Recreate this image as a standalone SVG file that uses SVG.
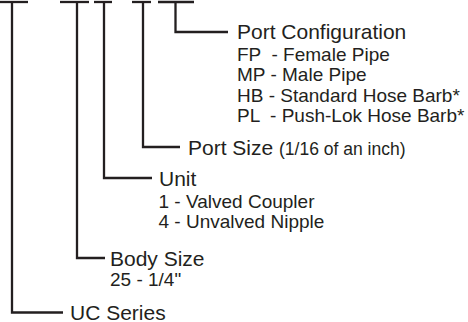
<svg xmlns="http://www.w3.org/2000/svg" width="468" height="322" viewBox="0 0 468 322">
<style>
  .ln { fill: none; stroke: #231f20; stroke-width: 2.3; stroke-linecap: butt; stroke-linejoin: miter; }
  text { font-family: "Liberation Sans", Arial, Helvetica, sans-serif; fill: #231f20; white-space: pre; }
  .main { font-size: 21px; }
  .sub { font-size: 19px; }
  .note { font-size: 17.5px; }
</style>
<rect width="468" height="322" fill="#ffffff"/>
<g id="connectors">
  <line class="ln" x1="0" y1="2" x2="28" y2="2"/>
  <line class="ln" x1="60" y1="2" x2="89" y2="2"/>
  <line class="ln" x1="94" y1="2" x2="112" y2="2"/>
  <line class="ln" x1="132" y1="2" x2="151" y2="2"/>
  <line class="ln" x1="158" y1="2" x2="194" y2="2"/>
  <polyline class="ln" points="12,2 12,312.5 63,312.5"/>
  <polyline class="ln" points="77,2 77,258 105,258"/>
  <polyline class="ln" points="104,2 104,178 152,178"/>
  <polyline class="ln" points="143,2 143,147 180,147"/>
  <polyline class="ln" points="175.5,2 175.5,32 228,32"/>
</g>
<g id="port-configuration">
  <text class="main" x="237" y="39">Port Configuration</text>
  <text class="sub" x="237" y="60.5">FP  - Female Pipe</text>
  <text class="sub" x="237" y="81">MP - Male Pipe</text>
  <text class="sub" x="237" y="101.5">HB - Standard Hose Barb*</text>
  <text class="sub" x="237" y="122">PL  - Push-Lok Hose Barb*</text>
</g>
<g id="port-size">
  <text class="main" x="188" y="154.5">Port Size <tspan class="note">(1/16 of an inch)</tspan></text>
</g>
<g id="unit">
  <text class="main" x="159" y="185.5">Unit</text>
  <text class="sub" x="158.5" y="207.5">1 - Valved Coupler</text>
  <text class="sub" x="158.5" y="228">4 - Unvalved Nipple</text>
</g>
<g id="body-size">
  <text class="main" x="110" y="265.5">Body Size</text>
  <text class="sub" x="110" y="286">25 - 1/4"</text>
</g>
<g id="uc-series">
  <text class="main" x="70" y="319.5">UC Series</text>
</g>
</svg>
